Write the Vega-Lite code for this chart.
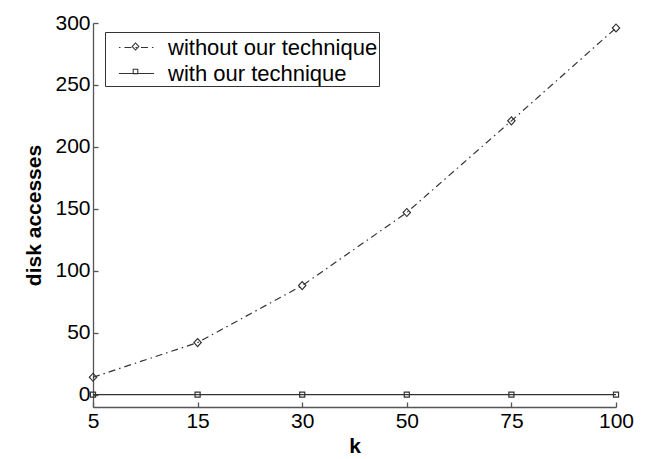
{
  "$schema": "https://vega.github.io/schema/vega-lite/v6.json",
  "width": 523,
  "height": 384,
  "autosize": {"type": "none"},
  "padding": {"left": 93, "top": 23, "right": 33, "bottom": 52},
  "background": "white",
  "config": {
    "view": {"stroke": null},
    "font": "Liberation Sans",
    "axis": {
      "grid": false,
      "domainColor": "#555",
      "domainWidth": 1.3,
      "tickColor": "#555",
      "tickWidth": 1.3,
      "tickSize": -5,
      "labelFont": "Liberation Sans",
      "labelFontSize": 21,
      "labelColor": "black",
      "titleFont": "Liberation Sans",
      "titleFontSize": 21,
      "titleFontWeight": "bold",
      "titleColor": "black"
    }
  },
  "data": {
    "values": [
      {"k": "5", "series": "without our technique", "accesses": 14},
      {"k": "15", "series": "without our technique", "accesses": 42},
      {"k": "30", "series": "without our technique", "accesses": 88},
      {"k": "50", "series": "without our technique", "accesses": 147},
      {"k": "75", "series": "without our technique", "accesses": 221},
      {"k": "100", "series": "without our technique", "accesses": 296},
      {"k": "5", "series": "with our technique", "accesses": 0},
      {"k": "15", "series": "with our technique", "accesses": 0},
      {"k": "30", "series": "with our technique", "accesses": 0},
      {"k": "50", "series": "with our technique", "accesses": 0},
      {"k": "75", "series": "with our technique", "accesses": 0},
      {"k": "100", "series": "with our technique", "accesses": 0}
    ]
  },
  "encoding": {
    "x": {
      "field": "k",
      "type": "ordinal",
      "sort": ["5", "15", "30", "50", "75", "100"],
      "scale": {"type": "point", "padding": 0},
      "axis": {"title": "k", "labelAngle": 0, "labelPadding": 8, "titlePadding": 4}
    },
    "y": {
      "field": "accesses",
      "type": "quantitative",
      "scale": {"domain": [-10, 300], "nice": false, "zero": false},
      "axis": {"title": "disk accesses", "values": [0, 50, 100, 150, 200, 250, 300], "labelPadding": 8, "titlePadding": 10}
    }
  },
  "layer": [
    {
      "mark": {"type": "line", "color": "#333", "strokeWidth": 1.2},
      "encoding": {
        "strokeDash": {
          "field": "series",
          "type": "nominal",
          "scale": {"domain": ["without our technique", "with our technique"], "range": [[7, 4, 1.5, 4], [1, 0]]},
          "legend": {
            "title": null,
            "orient": "none",
            "legendX": 12,
            "legendY": 9,
            "padding": 1,
            "strokeColor": "#333",
            "labelFont": "Liberation Sans",
            "labelFontSize": 22,
            "labelColor": "black",
            "labelLimit": 0,
            "labelOffset": 17,
            "symbolType": "M-1.3,0H1.3",
            "symbolSize": 729,
            "symbolOffset": 16,
            "symbolStrokeColor": "#333",
            "symbolStrokeWidth": 1.2,
            "symbolDashOffset": 11,
            "rowPadding": 0
          }
        }
      }
    },
    {
      "mark": {"type": "point", "size": 900, "filled": true, "fill": "#333", "color": "#333", "strokeWidth": 0, "opacity": 1},
      "encoding": {
        "shape": {
          "field": "series",
          "type": "nominal",
          "sort": ["without our technique", "with our technique"],
          "scale": {"range": ["M0,-0.32L0.3,0L0,0.32L-0.3,0ZM0,-0.21L-0.19,0L0,0.21L0.19,0Z", "M-0.21,-0.21H0.21V0.21H-0.21ZM-0.13,-0.13V0.13H0.13V-0.13Z"]},
          "legend": {
            "title": null,
            "orient": "none",
            "legendX": 12,
            "legendY": 9,
            "padding": 1,
            "labelFont": "Liberation Sans",
            "labelFontSize": 22,
            "labelOpacity": 0,
            "labelLimit": 0,
            "labelOffset": 17,
            "symbolSize": 729,
            "symbolOffset": 16,
            "symbolFillColor": "#333",
            "symbolStrokeWidth": 0,
            "rowPadding": 0
          }
        }
      }
    }
  ]
}
